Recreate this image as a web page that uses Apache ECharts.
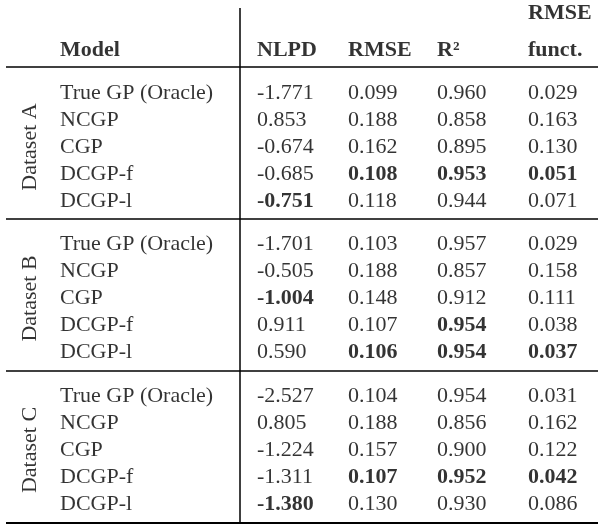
<!DOCTYPE html>
<html><head><meta charset="utf-8">
<script src="https://cdn.jsdelivr.net/npm/echarts@6/dist/echarts.min.js"></script>
<style>html,body{margin:0;background:#fff}#c{width:604px;height:532px}</style>
</head><body><div id="c"></div>
<script>
const datasets = ["Dataset A","Dataset B","Dataset C"];
const models = ["True GP (Oracle)","NCGP","CGP","DCGP-f","DCGP-l"];
const headers = ["NLPD","RMSE","R²","RMSE\nfunct."];
const nlpd = ["-1.771","0.853","-0.674","-0.685","-0.751","-1.701","-0.505","-1.004","0.911","0.590","-2.527","0.805","-1.224","-1.311","-1.380"];
const rmse = ["0.099","0.188","0.162","0.108","0.118","0.103","0.188","0.148","0.107","0.106","0.104","0.188","0.157","0.107","0.130"];
const r2 = ["0.960","0.858","0.895","0.953","0.944","0.957","0.857","0.912","0.954","0.954","0.954","0.856","0.900","0.952","0.930"];
const rmsef = ["0.029","0.163","0.130","0.051","0.071","0.029","0.158","0.111","0.038","0.037","0.031","0.162","0.122","0.042","0.086"];
const boldNlpd = [4,7,14], boldRmse=[3,9,13], boldR2=[3,8,9,13], boldRmsef=[3,9,13];

const FONT = '"Liberation Serif","DejaVu Serif",serif';
const colX = [257,348,437,528];
const rowY = i => 93 + Math.floor(i/5)*151.5 + (i%5)*27;
const pts = [];
function add(x,y,t,bold,extra){pts.push({value:[x,y],label:Object.assign({formatter:t,fontWeight:bold?'bold':'normal'},extra||{})});}
for(let i=0;i<15;i++){
  const y=rowY(i);
  add(60,y,models[i%5],false);
  [[nlpd,boldNlpd],[rmse,boldRmse],[r2,boldR2],[rmsef,boldRmsef]].forEach(([a,b],k)=>add(colX[k],y,a[i],b.includes(i)));
}
add(60,50,"Model",true);
add(colX[0],50,headers[0],true);add(colX[1],50,headers[1],true);add(colX[2],50,headers[2],true);
add(colX[3],32,headers[3],true,{lineHeight:37});
datasets.forEach((d,g)=>add(30,147+g*151.5,d,false,{rotate:90,align:'center'}));

const H=[67,219,371,523];
const chart=echarts.init(document.getElementById('c'));
chart.setOption({
  animation:false,
  grid:{left:0,right:0,top:0,bottom:0},
  xAxis:{type:'value',min:0,max:604,show:false},
  yAxis:{type:'value',min:0,max:532,inverse:true,show:false},
  series:[{type:'scatter',symbolSize:0,data:pts,
    label:{show:true,position:'inside',align:'left',verticalAlign:'middle',color:'#000',fontSize:22,fontFamily:FONT}},
  {type:'lines',coordinateSystem:'cartesian2d',lineStyle:{color:'#000',width:1.5,opacity:1},
    data:H.map((y,i)=>({coords:[[6,y],[598,y]],lineStyle:{width:i==3?2:1.5}})).concat([{coords:[[240,8],[240,523]]}])}]
});
</script></body></html>
